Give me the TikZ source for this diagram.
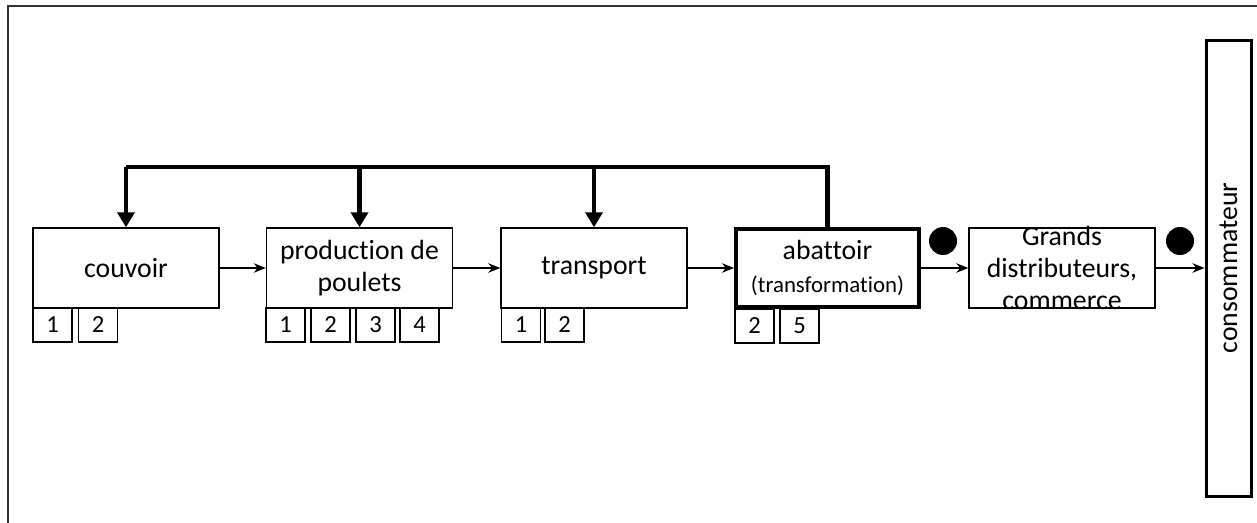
\documentclass[tikz,border=0pt]{standalone}
\usepackage{fontspec}
\setmainfont[Ligatures=NoCommon]{Carlito}
\usetikzlibrary{arrows.meta}
\begin{document}
\begin{tikzpicture}[x=0.02cm,y=-0.02cm,
  box/.style={draw=black,line width=0.85pt,minimum width=3.72cm,minimum height=1.6cm,inner sep=2pt,align=center,font=\fontsize{15.8}{18}\selectfont},
  numbox/.style={draw=black,line width=0.8pt,minimum width=0.78cm,minimum height=0.68cm,inner sep=0pt,font=\fontsize{14}{16}\selectfont},
  flow/.style={line width=0.8pt,-{Stealth[length=0.24cm,width=0.19cm]}},
  fb/.style={line width=2.8pt},
  fbarrow/.style={line width=2.8pt,-{Triangle[length=0.3cm,width=0.34cm]}},
  dot/.style={circle,fill=black,minimum size=0.56cm,inner sep=0pt}]
\useasboundingbox (0,0) rectangle (1257,523);
\draw[line width=1.1pt,black!80] (8,530) -- (8,6) -- (1265,6);
% main boxes
\node[box] (couvoir) at (126,268) {couvoir};
\node[box] (production) at (359.5,268) {production de\\poulets};
\node[box] (transport) at (594,268) {transport};
\node[box,line width=2.3pt,minimum width=3.66cm,minimum height=1.56cm] (abattoir) at (827.5,268) {abattoir\\[1pt]{\fontsize{13}{16}\selectfont(transformation)}};
\node[box] (grands) at (1062,268) {};
\node[align=center,font=\fontsize{15.8}{18.2}\selectfont] (grandslabel) at (1062,268) {Grands\\distributeurs,\\commerce};
\node[draw=black,line width=1.7pt,minimum width=0.9cm,minimum height=9.14cm,inner sep=0pt] (conso) at (1228.5,268.5) {};
\node[rotate=90,font=\fontsize{15.8}{18}\selectfont] (consolabel) at (1228.5,268) {consommateur};
% number boxes
\node[numbox] (c1) at (52.5,325) {1};
\node[numbox] (c2) at (98,325) {2};
\node[numbox] (p1) at (285.5,325) {1};
\node[numbox] (p2) at (330.5,325) {2};
\node[numbox] (p3) at (375.5,325) {3};
\node[numbox] (p4) at (419.5,325) {4};
\node[numbox] (t1) at (521,325) {1};
\node[numbox] (t2) at (564.5,325) {2};
\node[numbox] (a2) at (754.5,326) {2};
\node[numbox] (a5) at (799.5,326) {5};
% dots
\node[dot] (d1) at (943,241) {};
\node[dot] (d2) at (1180,241) {};
% flow arrows
\draw[flow] (couvoir.east) -- (production.west);
\draw[flow] (production.east) -- (transport.west);
\draw[flow] (transport.east) -- (abattoir.west);
\draw[flow] (abattoir.east) -- (grands.west);
\draw[flow] (grands.east) -- (conso.west |- grands.east);
% feedback
\coordinate (top) at (0,167);
\draw[fb] (abattoir.north) -- (abattoir.north |- top) -- (couvoir.north |- top);
\draw[fbarrow] (couvoir.north |- top) -- (couvoir.north);
\draw[fbarrow] (production.north |- top) -- (production.north);
\draw[fbarrow] (transport.north |- top) -- (transport.north);
\end{tikzpicture}
\end{document}
